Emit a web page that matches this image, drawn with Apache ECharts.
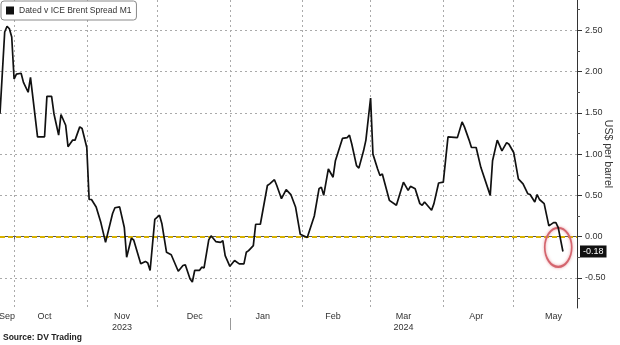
<!DOCTYPE html>
<html><head><meta charset="utf-8">
<script src="https://cdn.jsdelivr.net/npm/echarts@6/dist/echarts.min.js"></script>
<style>html,body{margin:0;padding:0;background:#fff}#c{width:620px;height:345px}</style>
</head><body><div id="c"></div>
<script>
const seriesName = 'Dated v ICE Brent Spread M1';
const dates = [
 '2023-09-25','2023-09-27','2023-09-28','2023-09-29','2023-09-30',
 '2023-10-01','2023-10-02','2023-10-04','2023-10-05','2023-10-07','2023-10-08','2023-10-09','2023-10-11','2023-10-14','2023-10-15','2023-10-17','2023-10-18','2023-10-20','2023-10-21','2023-10-23','2023-10-24','2023-10-26','2023-10-27','2023-10-29','2023-10-30',
 '2023-11-01','2023-11-02','2023-11-03','2023-11-05','2023-11-07','2023-11-09','2023-11-12','2023-11-13','2023-11-15','2023-11-17','2023-11-18','2023-11-20','2023-11-21','2023-11-24','2023-11-26','2023-11-27','2023-11-28','2023-11-30',
 '2023-12-02','2023-12-03','2023-12-05','2023-12-07','2023-12-10','2023-12-12','2023-12-13','2023-12-15','2023-12-16','2023-12-17','2023-12-19','2023-12-20','2023-12-21','2023-12-23','2023-12-24','2023-12-26','2023-12-28','2023-12-29','2023-12-30',
 '2024-01-01','2024-01-03','2024-01-05','2024-01-07','2024-01-08','2024-01-09','2024-01-11','2024-01-12','2024-01-14','2024-01-17','2024-01-18','2024-01-20','2024-01-21','2024-01-23','2024-01-25','2024-01-27','2024-01-29','2024-01-31',
 '2024-02-03','2024-02-06','2024-02-08','2024-02-09','2024-02-10','2024-02-12','2024-02-14','2024-02-15','2024-02-18','2024-02-20','2024-02-21','2024-02-22','2024-02-24','2024-02-25','2024-02-27','2024-02-28',
 '2024-03-01','2024-03-02','2024-03-04','2024-03-05','2024-03-06','2024-03-09','2024-03-12','2024-03-15','2024-03-17','2024-03-18','2024-03-20','2024-03-22','2024-03-23','2024-03-24','2024-03-27','2024-03-28','2024-03-30',
 '2024-04-01','2024-04-03','2024-04-07','2024-04-09','2024-04-10','2024-04-12','2024-04-13','2024-04-15','2024-04-17','2024-04-21','2024-04-22','2024-04-24','2024-04-26','2024-04-28','2024-04-29',
 '2024-05-01','2024-05-03','2024-05-05','2024-05-07','2024-05-08','2024-05-10','2024-05-11','2024-05-12','2024-05-14','2024-05-16','2024-05-18','2024-05-19','2024-05-20','2024-05-22'
];
const values = [
 1.49,2.48,2.55,2.52,2.42,
 1.91,1.97,1.98,1.87,1.75,1.93,1.69,1.21,1.21,1.70,1.70,1.49,1.23,1.48,1.35,1.09,1.17,1.17,1.33,1.31,
 1.08,0.45,0.45,0.36,0.17,-0.07,0.28,0.35,0.36,0.11,-0.25,-0.02,-0.04,-0.33,-0.30,-0.32,-0.41,0.21,
 0.26,0.16,-0.19,-0.22,-0.42,-0.35,-0.34,-0.51,-0.55,-0.41,-0.41,-0.37,-0.38,-0.04,0.01,-0.06,-0.07,-0.05,-0.23,
 -0.36,-0.29,-0.33,-0.33,-0.19,-0.17,-0.11,0.15,0.15,0.62,0.64,0.69,0.62,0.46,0.57,0.51,0.36,0.03,
 -0.01,0.25,0.58,0.60,0.50,0.82,0.72,0.92,1.19,1.20,1.23,1.12,0.86,0.83,1.04,1.17,
 1.68,1.00,0.82,0.74,0.76,0.44,0.38,0.66,0.56,0.61,0.58,0.40,0.38,0.42,0.32,0.40,0.65,
 0.66,1.21,1.20,1.39,1.33,1.17,1.08,1.08,0.84,0.50,0.92,1.17,1.04,1.14,1.12,
 1.02,0.70,0.64,0.52,0.51,0.42,0.51,0.45,0.40,0.13,0.17,0.17,0.11,-0.18
];
const monthStarts = ['2023-10-01','2023-11-01','2023-12-01','2024-01-01','2024-02-01','2024-03-01','2024-04-01','2024-05-01'];
const monthLabelDates = ['2023-09-28','2023-10-14','2023-11-16','2023-12-17','2024-01-15','2024-02-14','2024-03-15','2024-04-15','2024-05-18'];
const monthLabels = ['Sep','Oct','Nov\n2023','Dec','Jan','Feb','Mar\n2024','Apr','May'];
const yearBreak = '2024-01-01';
const yMajor = [-0.5, 0, 0.5, 1, 1.5, 2, 2.5];
const yMinor = [-0.75, -0.25, 0.25, 0.75, 1.25, 1.75, 2.25, 2.75];
const xRange = ['2023-09-25', '2024-05-28'];
const yRange = [-0.865, 2.868];
const highlight = ['2024-05-20', -0.13];

const ts = s => { const [y, m, d] = s.split('-').map(Number); return new Date(y, m - 1, d).getTime(); };
const lastVal = values[values.length - 1];
const labelMap = {};
monthLabelDates.forEach((d, i) => { labelMap[ts(d)] = monthLabels[i]; });
const FONT = "'Liberation Sans', Arial, sans-serif";

const chart = echarts.init(document.getElementById('c'), null, {renderer: 'canvas'});
const xCommon = {type: 'value', min: ts(xRange[0]), max: ts(xRange[1]), scale: true};
const yCommon = {type: 'value', min: yRange[0], max: yRange[1], position: 'right'};
chart.setOption({
  animation: false,
  backgroundColor: '#fff',
  textStyle: {fontFamily: FONT},
  title: {text: 'Source: DV Trading', left: 3, bottom: 3, padding: 0,
    textStyle: {fontSize: 8.5, fontWeight: 'bold', color: '#222', fontFamily: FONT}},
  legend: {left: 1, top: 1, padding: [5, 5, 5, 5], backgroundColor: '#fff',
    borderColor: '#8a8a8a', borderWidth: 1, borderRadius: 3,
    icon: 'rect', itemWidth: 8, itemHeight: 8, itemGap: 4,
    textStyle: {fontSize: 8.5, color: '#333', fontFamily: FONT},
    data: [seriesName]},
  grid: {left: 0, right: 43, top: 0, bottom: 37, containLabel: false, outerBoundsMode: 'none'},
  xAxis: [
    Object.assign({}, xCommon, {
      axisLine: {show: true, lineStyle: {color: '#555', width: 1}},
      axisTick: {show: true, customValues: monthStarts.map(ts), length: 3, lineStyle: {color: '#666'}},
      splitLine: {show: true, lineStyle: {color: '#aaa', type: [2, 3], width: 1}},
      axisLabel: {show: true, customValues: monthLabelDates.map(ts), margin: 3,
        fontSize: 9, color: '#333', lineHeight: 11, fontFamily: FONT,
        formatter: v => labelMap[v] || ''}
    })
  ],
  yAxis: [
    Object.assign({}, yCommon, {
      name: 'US$ per barrel', nameLocation: 'middle', nameRotate: -90, nameGap: 25,
      nameMoveOverlap: false,
      nameTextStyle: {fontSize: 10.5, color: '#333', fontFamily: FONT},
      axisLine: {show: true, lineStyle: {color: '#333', width: 1}},
      axisTick: {show: true, customValues: yMajor, length: 5, lineStyle: {color: '#333'}},
      splitLine: {show: true, lineStyle: {color: '#aaa', type: [2, 3], width: 1}},
      axisLabel: {customValues: yMajor, margin: 8, fontSize: 9, color: '#333', fontFamily: FONT,
        formatter: v => v.toFixed(2)}
    }),
    Object.assign({}, yCommon, {
      axisLine: {show: false},
      axisTick: {show: true, customValues: yMinor, length: 3, lineStyle: {color: '#555'}},
      splitLine: {show: false},
      axisLabel: {show: false}
    }),
    Object.assign({}, yCommon, {
      axisLine: {show: false}, axisTick: {show: false}, splitLine: {show: false},
      axisLabel: {customValues: [lastVal], margin: 3, fontSize: 9, color: '#fff',
        backgroundColor: '#111', padding: [2, 3, 1, 3], fontFamily: FONT,
        formatter: v => v.toFixed(2)}
    })
  ],
  series: [{
    name: seriesName, type: 'line', xAxisIndex: 0, yAxisIndex: 0,
    data: dates.map((d, i) => [ts(d), values[i]]),
    showSymbol: false, symbol: 'none',
    itemStyle: {color: '#111'},
    lineStyle: {color: '#111', width: 1.7},
    z: 5,
    markLine: {silent: true, symbol: 'none', label: {show: false},
      lineStyle: {color: '#d8b200', type: [5, 3], width: 2},
      data: [{yAxis: 0}], z: 4},
    markPoint: {silent: true, symbol: 'circle', symbolSize: [27, 39],
      label: {show: false},
      itemStyle: {color: 'rgba(0,0,0,0)', borderColor: '#d4656e', borderWidth: 2,
        shadowBlur: 3, shadowColor: 'rgba(220,110,120,0.7)'},
      data: [{coord: [ts(highlight[0]), highlight[1]]}]}
  }]
});
// year separator under the axis at the Dec/Jan boundary
const sepX = Math.round(chart.convertToPixel({xAxisIndex: 0}, ts(yearBreak))) + 0.5;
const axisY = chart.convertToPixel({yAxisIndex: 0}, yRange[0]);
chart.setOption({graphic: [{type: 'line', silent: true,
  shape: {x1: sepX, y1: axisY + 10, x2: sepX, y2: axisY + 22},
  style: {stroke: '#999', lineWidth: 1}}]});
</script></body></html>
